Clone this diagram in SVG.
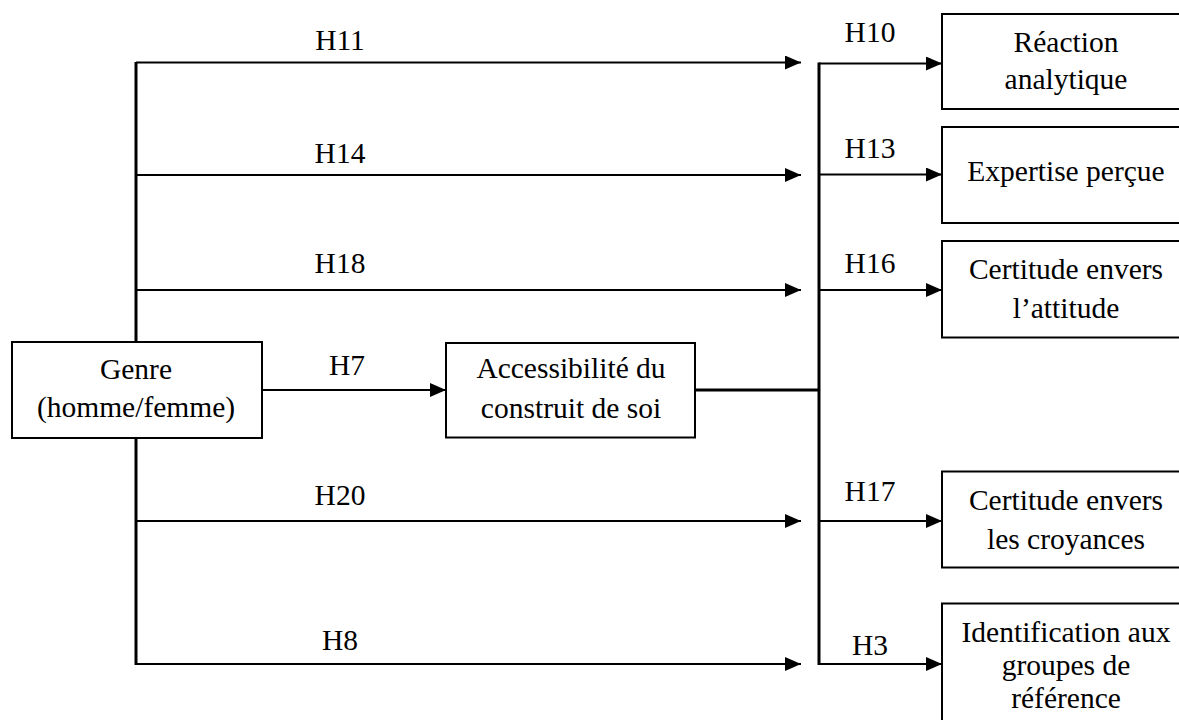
<svg xmlns="http://www.w3.org/2000/svg" width="1179" height="720" viewBox="0 0 1179 720">
<style>
.box{fill:#fff;stroke:#000;stroke-width:2}
.ln{fill:none;stroke:#000;stroke-width:2}
.thick{fill:none;stroke:#000;stroke-width:3}
text{font-family:"Liberation Serif","Times New Roman",serif;font-size:29.5px;fill:#000;text-anchor:middle}
</style>
<defs>
<marker id="ah" markerUnits="userSpaceOnUse" markerWidth="16" markerHeight="14" refX="16" refY="7" orient="auto">
<path d="M0,0 L16,7 L0,14 z" fill="#000"/>
</marker>
</defs>
<g id="connectors">
<path class="thick" d="M136,62 V665"/>
<path class="ln" d="M136,62.5 H801" marker-end="url(#ah)"/>
<path class="ln" d="M136,175 H801" marker-end="url(#ah)"/>
<path class="ln" d="M136,290 H801" marker-end="url(#ah)"/>
<path class="ln" d="M136,521 H801" marker-end="url(#ah)"/>
<path class="ln" d="M136,664 H801" marker-end="url(#ah)"/>
<path class="ln" d="M262,390 H446" marker-end="url(#ah)"/>
<path class="thick" d="M695,390 H819"/>
<path class="thick" d="M819,62.5 V665"/>
<path class="ln" d="M819,63.5 H942" marker-end="url(#ah)"/>
<path class="ln" d="M819,174.5 H942" marker-end="url(#ah)"/>
<path class="ln" d="M819,290 H942" marker-end="url(#ah)"/>
<path class="ln" d="M819,521 H942" marker-end="url(#ah)"/>
<path class="ln" d="M819,664 H942" marker-end="url(#ah)"/>
<text x="340" y="50">H11</text>
<text x="340" y="163">H14</text>
<text x="340" y="273">H18</text>
<text x="347" y="375">H7</text>
<text x="340" y="505">H20</text>
<text x="340" y="650">H8</text>
<text x="870" y="42">H10</text>
<text x="870" y="158">H13</text>
<text x="870" y="273">H16</text>
<text x="870" y="501">H17</text>
<text x="870" y="655">H3</text>
</g>
<g id="genre">
<rect class="box" x="12" y="342" width="250" height="96"/>
<text x="136" y="379">Genre</text>
<text x="136" y="417">(homme/femme)</text>
</g>
<g id="accessibilite">
<rect class="box" x="446" y="343" width="249" height="94.5"/>
<text x="571" y="378">Accessibilité du</text>
<text x="571" y="418">construit de soi</text>
</g>
<g id="reaction">
<rect class="box" x="942" y="14" width="250" height="95"/>
<text x="1066" y="52">Réaction</text>
<text x="1066" y="89">analytique</text>
</g>
<g id="expertise">
<rect class="box" x="942" y="127" width="250" height="96"/>
<text x="1066" y="181">Expertise perçue</text>
</g>
<g id="certitude-attitude">
<rect class="box" x="942" y="241" width="250" height="96.5"/>
<text x="1066" y="279">Certitude envers</text>
<text x="1066" y="318">l’attitude</text>
</g>
<g id="certitude-croyances">
<rect class="box" x="942" y="471.5" width="250" height="96"/>
<text x="1066" y="510">Certitude envers</text>
<text x="1066" y="549">les croyances</text>
</g>
<g id="identification">
<rect class="box" x="942" y="603.5" width="250" height="130"/>
<text x="1066" y="642">Identification aux</text>
<text x="1066" y="675">groupes de</text>
<text x="1066" y="708">référence</text>
</g>
</svg>
